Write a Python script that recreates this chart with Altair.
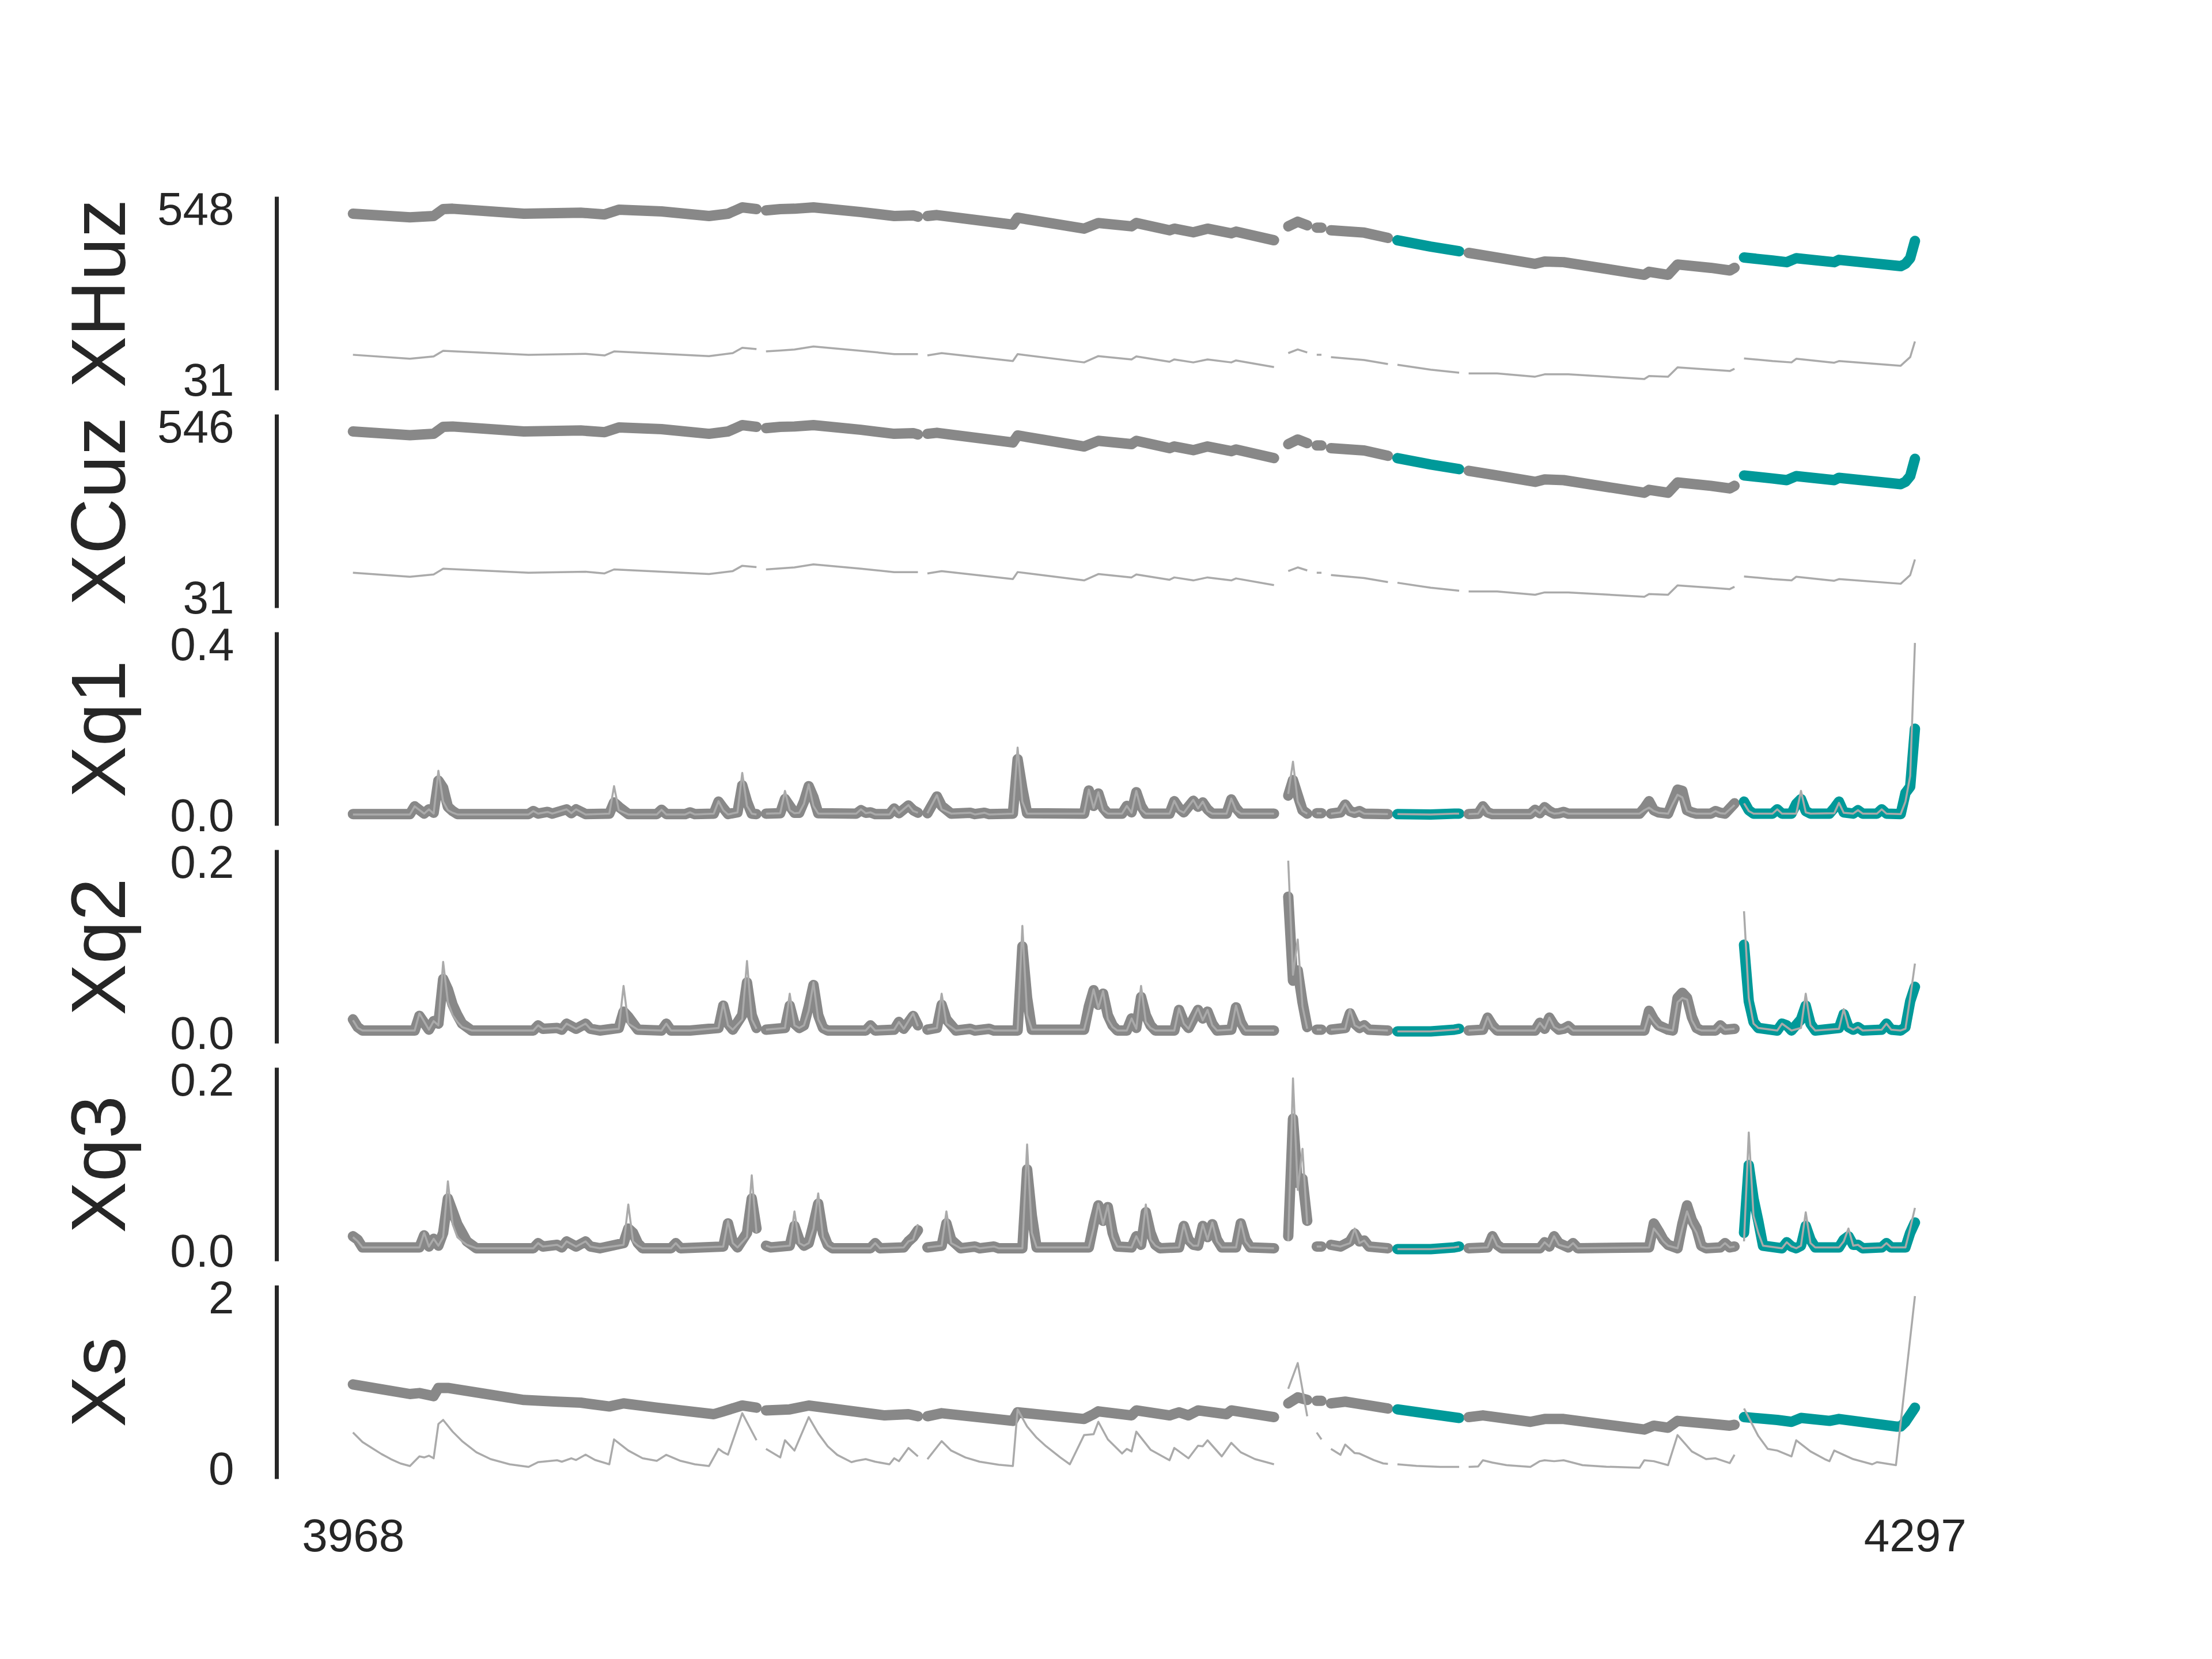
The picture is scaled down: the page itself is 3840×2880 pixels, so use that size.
import altair as alt
import pandas as pd

FONT = "Liberation Sans"
INK = "#262626"
GRAY = "#888888"
TEAL = "#009999"
THIN_GRAY = "#aaaaaa"

X_TICKS = [3968, 4297]
X_DOMAIN = [3951.9, 4313.1]

# segments of the record (gaps between them), and which are highlighted
SEG_STARTS = [3968, 4055, 4089, 4165, 4171, 4174, 4188, 4203, 4261]
SEG_HIGHLIGHT = [False, False, False, False, False, False, True, False, True]

PANEL_NAMES = ["XHuz", "XCuz", "Xq1", "Xq2", "Xq3", "Xs"]
PANEL_TICKS = [[31, 548], [31, 546], [0.0, 0.4], [0.0, 0.2], [0.0, 0.2], [0, 2]]
PANEL_FORMATS = ["d", "d", ".1f", ".1f", ".1f", "d"]

HUZ_THICK = [
    (3968, 529), (3980, 518), (3985, 522), (3987, 543), (3989, 544), (4004, 529), (4016, 532), (4021, 527),
    (4024, 541), (4033, 536), (4043, 522), (4047, 529), (4050, 548), (4053, 543),
    (4055, 539), (4058, 543), (4061, 544), (4065, 548), (4075, 534), (4082, 522), (4086, 524), (4087, 520),
    (4089, 522), (4091, 525), (4107, 496), (4108, 517), (4122, 484), (4125, 501), (4132, 491), (4133, 501),
    (4140, 479), (4141, 484), (4145, 473), (4148, 484), (4153, 470), (4154, 475), (4162, 449),
    (4165, 491), (4167, 505), (4169, 494),
    (4171, 487), (4172, 487),
    (4174, 479), (4181, 472), (4186, 456),
    (4188, 449), (4195, 430), (4201, 416),
    (4203, 411), (4209, 397), (4217, 378), (4219, 385), (4223, 383), (4240, 345), (4241, 354), (4245, 345),
    (4247, 376), (4254, 366), (4258, 358), (4259, 366),
    (4261, 397), (4267, 388), (4270, 383), (4272, 395), (4280, 383), (4281, 390), (4294, 371), (4295, 378),
    (4296, 395), (4297, 447),
]
HUZ_THIN = [
    (3968, 104), (3980, 92), (3985, 99), (3987, 116), (4005, 104), (4017, 107), (4021, 102), (4023, 114),
    (4043, 100), (4048, 109), (4050, 125), (4053, 121),
    (4055, 114), (4058, 117), (4061, 120), (4065, 129), (4075, 116), (4082, 106), (4087, 106),
    (4089, 102), (4092, 109), (4107, 85), (4108, 106), (4122, 81), (4125, 100), (4132, 90), (4133, 99),
    (4140, 83), (4141, 90), (4145, 81), (4148, 90), (4153, 81), (4154, 87), (4162, 67),
    (4165, 109), (4167, 120), (4169, 111),
    (4171, 104), (4172, 104),
    (4174, 97), (4181, 88), (4186, 76),
    (4188, 74), (4195, 59), (4201, 50),
    (4203, 48), (4209, 48), (4217, 38), (4219, 45), (4224, 45), (4240, 31), (4241, 40), (4245, 38),
    (4247, 66), (4254, 59), (4258, 55), (4259, 62),
    (4261, 93), (4267, 85), (4271, 81), (4272, 92), (4280, 80), (4281, 85), (4294, 71), (4296, 97), (4297, 144),
]
CUZ_THICK = [
    (3968, 527), (3980, 516), (3985, 520), (3987, 541), (3989, 542), (4004, 527), (4016, 530), (4021, 525),
    (4024, 539), (4033, 534), (4043, 520), (4047, 527), (4050, 546), (4053, 541),
    (4055, 537), (4058, 541), (4061, 542), (4065, 546), (4075, 532), (4082, 520), (4086, 522), (4087, 518),
    (4089, 520), (4091, 523), (4107, 494), (4108, 515), (4122, 482), (4125, 499), (4132, 489), (4133, 499),
    (4140, 477), (4141, 482), (4145, 471), (4148, 482), (4153, 468), (4154, 473), (4162, 447),
    (4165, 489), (4167, 503), (4169, 492),
    (4171, 485), (4172, 485),
    (4174, 477), (4181, 470), (4186, 454),
    (4188, 447), (4195, 428), (4201, 414),
    (4203, 409), (4209, 395), (4217, 376), (4219, 383), (4223, 381), (4240, 343), (4241, 352), (4245, 343),
    (4247, 374), (4254, 364), (4258, 356), (4259, 364),
    (4261, 395), (4267, 386), (4270, 381), (4272, 393), (4280, 381), (4281, 388), (4294, 369), (4295, 376),
    (4296, 393), (4297, 445),
]
CUZ_THIN = [
    (3968, 103), (3980, 91), (3985, 98), (3987, 115), (4005, 103), (4017, 106), (4021, 101), (4023, 113),
    (4043, 99), (4048, 108), (4050, 124), (4053, 120),
    (4055, 113), (4058, 116), (4061, 119), (4065, 128), (4075, 115), (4082, 105), (4087, 105),
    (4089, 101), (4092, 108), (4107, 84), (4108, 105), (4122, 80), (4125, 99), (4132, 89), (4133, 98),
    (4140, 82), (4141, 89), (4145, 80), (4148, 89), (4153, 80), (4154, 86), (4162, 66),
    (4165, 108), (4167, 119), (4169, 110),
    (4171, 103), (4172, 103),
    (4174, 96), (4181, 87), (4186, 75),
    (4188, 73), (4195, 58), (4201, 49),
    (4203, 47), (4209, 47), (4217, 37), (4219, 44), (4224, 44), (4240, 31), (4241, 39), (4245, 37),
    (4247, 65), (4254, 58), (4258, 54), (4259, 61),
    (4261, 92), (4267, 84), (4271, 80), (4272, 91), (4280, 79), (4281, 84), (4294, 70), (4296, 96), (4297, 143),
]
Q1_THICK = [
    (3968, 0.001), (3980, 0.001), (3981, 0.019), (3983, 0.002), (3984, 0.012), (3985, 0.004), (3986, 0.079),
    (3987, 0.062), (3988, 0.018), (3989, 0.008), (3990, 0.001), (4005, 0.001), (4006, 0.008), (4007, 0.002),
    (4009, 0.006), (4010, 0.002), (4013, 0.012), (4014, 0.003), (4015, 0.012), (4017, 0.001), (4022, 0.002),
    (4023, 0.028), (4024, 0.018), (4026, 0.001), (4032, 0.001), (4033, 0.011), (4034, 0.001), (4038, 0.001),
    (4039, 0.005), (4040, 0.001), (4044, 0.002), (4045, 0.030), (4046, 0.015), (4047, 0.001), (4049, 0.005),
    (4050, 0.068), (4051, 0.030), (4052, 0.002), (4053, 0.001),
    (4055, 0.002), (4058, 0.003), (4059, 0.036), (4060, 0.020), (4061, 0.004), (4062, 0.004), (4063, 0.030),
    (4064, 0.066), (4065, 0.040), (4066, 0.003), (4074, 0.002), (4075, 0.010), (4076, 0.004), (4077, 0.005),
    (4078, 0.001), (4081, 0.001), (4082, 0.014), (4083, 0.003), (4085, 0.021), (4086, 0.010), (4087, 0.004),
    (4089, 0.003), (4091, 0.042), (4092, 0.020), (4094, 0.002), (4098, 0.004), (4099, 0.001), (4101, 0.004),
    (4102, 0.001), (4107, 0.002), (4108, 0.129), (4109, 0.060), (4110, 0.003), (4122, 0.002), (4123, 0.056),
    (4124, 0.020), (4125, 0.049), (4126, 0.015), (4127, 0.002), (4130, 0.002), (4131, 0.020), (4132, 0.005),
    (4133, 0.052), (4134, 0.020), (4135, 0.002), (4140, 0.002), (4141, 0.031), (4142, 0.015), (4143, 0.005),
    (4145, 0.032), (4146, 0.018), (4147, 0.028), (4148, 0.012), (4149, 0.002), (4152, 0.002), (4153, 0.035),
    (4154, 0.015), (4155, 0.002), (4162, 0.002),
    (4165, 0.044), (4166, 0.080), (4167, 0.045), (4168, 0.010), (4169, 0.002),
    (4171, 0.003), (4172, 0.003),
    (4174, 0.002), (4176, 0.005), (4177, 0.023), (4178, 0.008), (4179, 0.004), (4180, 0.008), (4181, 0.002),
    (4186, 0.001),
    (4188, 0.001), (4195, 0.000), (4200, 0.002), (4201, 0.002),
    (4203, 0.001), (4205, 0.002), (4206, 0.019), (4207, 0.005), (4208, 0.001), (4216, 0.001), (4217, 0.011),
    (4218, 0.003), (4219, 0.017), (4220, 0.008), (4221, 0.002), (4222, 0.003), (4223, 0.006), (4224, 0.002),
    (4239, 0.002), (4240, 0.015), (4241, 0.031), (4242, 0.010), (4243, 0.005), (4245, 0.002), (4246, 0.030),
    (4247, 0.058), (4248, 0.055), (4249, 0.010), (4250, 0.005), (4251, 0.002), (4254, 0.002), (4255, 0.008),
    (4256, 0.004), (4257, 0.002), (4259, 0.026),
    (4261, 0.030), (4262, 0.010), (4263, 0.002), (4267, 0.002), (4268, 0.012), (4269, 0.002), (4271, 0.002),
    (4272, 0.025), (4273, 0.036), (4274, 0.008), (4275, 0.002), (4279, 0.002), (4280, 0.015), (4281, 0.030),
    (4282, 0.005), (4284, 0.002), (4285, 0.010), (4286, 0.002), (4289, 0.002), (4290, 0.012), (4291, 0.002),
    (4294, 0.001), (4295, 0.050), (4296, 0.065), (4297, 0.200),
]
Q1_THIN = [
    (3968, 0.0), (3980, 0.0), (3981, 0.019), (3983, 0.002), (3984, 0.012), (3985, 0.002), (3986, 0.102),
    (3987, 0.030), (3988, 0.010), (3989, 0.004), (3990, 0.0), (4005, 0.0), (4006, 0.008), (4007, 0.002),
    (4009, 0.006), (4010, 0.002), (4013, 0.012), (4014, 0.003), (4015, 0.012), (4017, 0.0), (4022, 0.002),
    (4023, 0.066), (4024, 0.010), (4026, 0.0), (4032, 0.0), (4033, 0.011), (4034, 0.0), (4038, 0.0),
    (4039, 0.005), (4040, 0.0), (4044, 0.002), (4045, 0.031), (4046, 0.010), (4047, 0.0), (4049, 0.005),
    (4050, 0.097), (4051, 0.020), (4052, 0.002), (4053, 0.0),
    (4055, 0.002), (4058, 0.003), (4059, 0.055), (4060, 0.010), (4061, 0.003), (4062, 0.004), (4063, 0.025),
    (4064, 0.070), (4065, 0.020), (4066, 0.002), (4074, 0.002), (4075, 0.012), (4076, 0.003), (4077, 0.005),
    (4078, 0.0), (4081, 0.0), (4082, 0.016), (4083, 0.003), (4085, 0.022), (4086, 0.008), (4087, 0.004),
    (4089, 0.003), (4091, 0.045), (4092, 0.012), (4094, 0.002), (4098, 0.004), (4099, 0.0), (4101, 0.004),
    (4102, 0.0), (4107, 0.002), (4108, 0.156), (4109, 0.030), (4110, 0.002), (4122, 0.002), (4123, 0.058),
    (4124, 0.015), (4125, 0.052), (4126, 0.010), (4127, 0.002), (4130, 0.002), (4131, 0.020), (4132, 0.004),
    (4133, 0.055), (4134, 0.012), (4135, 0.002), (4140, 0.002), (4141, 0.032), (4142, 0.010), (4143, 0.004),
    (4145, 0.034), (4146, 0.014), (4147, 0.030), (4148, 0.008), (4149, 0.002), (4152, 0.002), (4153, 0.037),
    (4154, 0.010), (4155, 0.002), (4162, 0.002),
    (4165, 0.048), (4166, 0.123), (4167, 0.030), (4168, 0.008), (4169, 0.002),
    (4171, 0.003), (4172, 0.003),
    (4174, 0.002), (4176, 0.005), (4177, 0.025), (4178, 0.006), (4179, 0.004), (4180, 0.008), (4181, 0.002),
    (4186, 0.001),
    (4188, 0.001), (4195, 0.0), (4200, 0.002), (4201, 0.002),
    (4203, 0.001), (4205, 0.002), (4206, 0.020), (4207, 0.004), (4208, 0.001), (4216, 0.001), (4217, 0.011),
    (4218, 0.003), (4219, 0.017), (4220, 0.006), (4221, 0.002), (4222, 0.003), (4223, 0.006), (4224, 0.002),
    (4239, 0.002), (4240, 0.010), (4241, 0.016), (4242, 0.008), (4243, 0.004), (4245, 0.002), (4246, 0.025),
    (4247, 0.046), (4248, 0.040), (4249, 0.008), (4250, 0.004), (4251, 0.002), (4254, 0.002), (4255, 0.008),
    (4256, 0.003), (4257, 0.002), (4259, 0.022),
    (4261, 0.026), (4262, 0.008), (4263, 0.002), (4267, 0.002), (4268, 0.012), (4269, 0.002), (4272, 0.002),
    (4273, 0.055), (4274, 0.005), (4275, 0.002), (4280, 0.003), (4281, 0.027), (4282, 0.004), (4284, 0.002),
    (4285, 0.010), (4286, 0.002), (4289, 0.002), (4290, 0.012), (4291, 0.002), (4294, 0.001), (4295, 0.030),
    (4296, 0.090), (4297, 0.400),
]
Q2_THICK = [
    (3968, 0.015), (3969, 0.006), (3970, 0.002), (3981, 0.002), (3982, 0.019), (3984, 0.003), (3985, 0.013),
    (3986, 0.010), (3987, 0.062), (3988, 0.050), (3989, 0.032), (3990, 0.020), (3991, 0.010), (3993, 0.002),
    (4006, 0.002), (4007, 0.008), (4008, 0.004), (4011, 0.005), (4012, 0.003), (4013, 0.010), (4015, 0.004),
    (4017, 0.010), (4018, 0.004), (4020, 0.002), (4024, 0.005), (4025, 0.024), (4026, 0.018), (4028, 0.003),
    (4033, 0.002), (4034, 0.010), (4035, 0.002), (4039, 0.002), (4045, 0.005), (4046, 0.031), (4047, 0.010),
    (4048, 0.003), (4050, 0.020), (4051, 0.058), (4052, 0.020), (4053, 0.005),
    (4055, 0.003), (4059, 0.005), (4060, 0.031), (4061, 0.010), (4062, 0.005), (4063, 0.008), (4064, 0.030),
    (4065, 0.055), (4066, 0.020), (4067, 0.005), (4068, 0.002), (4076, 0.002), (4077, 0.008), (4078, 0.002),
    (4082, 0.003), (4083, 0.012), (4084, 0.004), (4086, 0.019), (4087, 0.008),
    (4089, 0.003), (4091, 0.005), (4092, 0.032), (4093, 0.015), (4095, 0.002), (4098, 0.004), (4099, 0.002),
    (4102, 0.004), (4103, 0.002), (4108, 0.002), (4109, 0.100), (4110, 0.040), (4111, 0.003), (4122, 0.003),
    (4123, 0.030), (4124, 0.049), (4125, 0.032), (4126, 0.045), (4127, 0.020), (4128, 0.008), (4129, 0.002),
    (4131, 0.002), (4132, 0.016), (4133, 0.005), (4134, 0.041), (4135, 0.020), (4136, 0.008), (4137, 0.002),
    (4141, 0.002), (4142, 0.026), (4143, 0.012), (4144, 0.005), (4146, 0.026), (4147, 0.016), (4148, 0.024),
    (4149, 0.010), (4150, 0.002), (4153, 0.003), (4154, 0.029), (4155, 0.012), (4156, 0.002), (4162, 0.002),
    (4165, 0.158), (4166, 0.060), (4167, 0.072), (4168, 0.035), (4169, 0.006),
    (4171, 0.003), (4172, 0.003),
    (4174, 0.003), (4177, 0.005), (4178, 0.022), (4179, 0.010), (4180, 0.005), (4181, 0.008), (4182, 0.003),
    (4186, 0.002),
    (4188, 0.001), (4195, 0.001), (4200, 0.003), (4201, 0.004),
    (4203, 0.002), (4206, 0.003), (4207, 0.017), (4208, 0.008), (4209, 0.002), (4217, 0.002), (4218, 0.011),
    (4219, 0.004), (4220, 0.017), (4221, 0.008), (4222, 0.003), (4223, 0.004), (4224, 0.007), (4225, 0.002),
    (4240, 0.002), (4241, 0.025), (4242, 0.015), (4243, 0.008), (4245, 0.003), (4246, 0.002), (4247, 0.040),
    (4248, 0.046), (4249, 0.040), (4250, 0.018), (4251, 0.005), (4252, 0.002), (4255, 0.002), (4256, 0.008),
    (4257, 0.003), (4259, 0.004),
    (4261, 0.102), (4262, 0.036), (4263, 0.012), (4264, 0.005), (4268, 0.002), (4269, 0.010), (4270, 0.008),
    (4271, 0.002), (4273, 0.015), (4274, 0.031), (4275, 0.010), (4276, 0.002), (4281, 0.005), (4282, 0.021),
    (4283, 0.006), (4284, 0.003), (4285, 0.006), (4286, 0.002), (4290, 0.003), (4291, 0.010), (4292, 0.003),
    (4294, 0.002), (4295, 0.006), (4296, 0.036), (4297, 0.053),
]
Q2_THIN = [
    (3968, 0.014), (3969, 0.005), (3970, 0.002), (3981, 0.002), (3982, 0.022), (3984, 0.003), (3985, 0.013),
    (3986, 0.008), (3987, 0.082), (3988, 0.035), (3989, 0.020), (3990, 0.012), (3991, 0.006), (3993, 0.002),
    (4006, 0.002), (4007, 0.008), (4008, 0.004), (4011, 0.005), (4012, 0.003), (4013, 0.010), (4015, 0.004),
    (4017, 0.010), (4018, 0.004), (4020, 0.002), (4024, 0.004), (4025, 0.054), (4026, 0.010), (4028, 0.003),
    (4033, 0.002), (4034, 0.010), (4035, 0.002), (4039, 0.002), (4045, 0.005), (4046, 0.034), (4047, 0.008),
    (4048, 0.003), (4050, 0.015), (4051, 0.083), (4052, 0.015), (4053, 0.004),
    (4055, 0.003), (4059, 0.005), (4060, 0.045), (4061, 0.008), (4062, 0.005), (4063, 0.008), (4064, 0.025),
    (4065, 0.058), (4066, 0.015), (4067, 0.004), (4068, 0.002), (4076, 0.002), (4077, 0.008), (4078, 0.002),
    (4082, 0.003), (4083, 0.012), (4084, 0.004), (4086, 0.022), (4087, 0.007),
    (4089, 0.003), (4091, 0.005), (4092, 0.045), (4093, 0.010), (4095, 0.002), (4098, 0.004), (4099, 0.002),
    (4102, 0.004), (4103, 0.002), (4108, 0.002), (4109, 0.124), (4110, 0.020), (4111, 0.003), (4122, 0.003),
    (4123, 0.025), (4124, 0.050), (4125, 0.028), (4126, 0.048), (4127, 0.015), (4128, 0.006), (4129, 0.002),
    (4131, 0.002), (4132, 0.016), (4133, 0.004), (4134, 0.054), (4135, 0.012), (4136, 0.005), (4137, 0.002),
    (4141, 0.002), (4142, 0.028), (4143, 0.010), (4144, 0.004), (4146, 0.028), (4147, 0.014), (4148, 0.026),
    (4149, 0.008), (4150, 0.002), (4153, 0.003), (4154, 0.031), (4155, 0.010), (4156, 0.002), (4162, 0.002),
    (4165, 0.200), (4166, 0.067), (4167, 0.108), (4168, 0.030), (4169, 0.004),
    (4171, 0.003), (4172, 0.003),
    (4174, 0.003), (4177, 0.004), (4178, 0.027), (4179, 0.008), (4180, 0.005), (4181, 0.008), (4182, 0.003),
    (4186, 0.002),
    (4188, 0.001), (4195, 0.001), (4200, 0.003), (4201, 0.004),
    (4203, 0.002), (4206, 0.003), (4207, 0.018), (4208, 0.006), (4209, 0.002), (4217, 0.002), (4218, 0.011),
    (4219, 0.004), (4220, 0.017), (4221, 0.006), (4222, 0.003), (4223, 0.004), (4224, 0.007), (4225, 0.002),
    (4240, 0.002), (4241, 0.020), (4242, 0.012), (4243, 0.006), (4245, 0.003), (4246, 0.002), (4247, 0.035),
    (4248, 0.040), (4249, 0.038), (4250, 0.014), (4251, 0.004), (4252, 0.002), (4255, 0.002), (4256, 0.008),
    (4257, 0.003), (4259, 0.004),
    (4261, 0.141), (4262, 0.040), (4263, 0.010), (4264, 0.005), (4268, 0.002), (4269, 0.010), (4270, 0.006),
    (4271, 0.002), (4273, 0.005), (4274, 0.045), (4275, 0.008), (4276, 0.002), (4281, 0.004), (4282, 0.027),
    (4283, 0.006), (4284, 0.003), (4285, 0.006), (4286, 0.002), (4290, 0.003), (4291, 0.010), (4292, 0.003),
    (4294, 0.002), (4295, 0.004), (4296, 0.040), (4297, 0.080),
]
Q3_THICK = [
    (3968, 0.016), (3969, 0.012), (3970, 0.003), (3982, 0.003), (3983, 0.017), (3984, 0.004), (3985, 0.013),
    (3986, 0.005), (3987, 0.020), (3988, 0.060), (3989, 0.045), (3990, 0.030), (3991, 0.020), (3992, 0.010),
    (3994, 0.002), (4006, 0.002), (4007, 0.008), (4008, 0.004), (4011, 0.006), (4012, 0.003), (4013, 0.010),
    (4015, 0.004), (4017, 0.010), (4018, 0.004), (4020, 0.002), (4025, 0.008), (4026, 0.025), (4027, 0.020),
    (4028, 0.008), (4029, 0.002), (4035, 0.002), (4036, 0.008), (4037, 0.002), (4046, 0.004), (4047, 0.031),
    (4048, 0.010), (4049, 0.003), (4051, 0.020), (4052, 0.060), (4053, 0.025),
    (4055, 0.005), (4056, 0.003), (4060, 0.005), (4061, 0.028), (4062, 0.012), (4063, 0.005), (4064, 0.008),
    (4065, 0.030), (4066, 0.054), (4067, 0.020), (4068, 0.006), (4069, 0.002), (4077, 0.002), (4078, 0.008),
    (4079, 0.002), (4084, 0.003), (4085, 0.010), (4086, 0.015), (4087, 0.023),
    (4089, 0.003), (4092, 0.005), (4093, 0.031), (4094, 0.012), (4096, 0.002), (4099, 0.004), (4100, 0.002),
    (4103, 0.004), (4104, 0.002), (4109, 0.002), (4110, 0.094), (4111, 0.040), (4112, 0.003), (4123, 0.003),
    (4124, 0.030), (4125, 0.052), (4126, 0.034), (4127, 0.050), (4128, 0.020), (4129, 0.004), (4132, 0.003),
    (4133, 0.016), (4134, 0.006), (4135, 0.044), (4136, 0.020), (4137, 0.006), (4138, 0.002), (4142, 0.003),
    (4143, 0.028), (4144, 0.012), (4145, 0.006), (4146, 0.005), (4147, 0.028), (4148, 0.015), (4149, 0.030),
    (4150, 0.012), (4151, 0.003), (4154, 0.003), (4155, 0.031), (4156, 0.012), (4157, 0.003), (4162, 0.002),
    (4165, 0.016), (4166, 0.153), (4167, 0.078), (4168, 0.083), (4169, 0.034),
    (4171, 0.004), (4172, 0.004),
    (4174, 0.006), (4176, 0.004), (4178, 0.010), (4179, 0.019), (4180, 0.010), (4181, 0.011), (4182, 0.004),
    (4186, 0.002),
    (4188, 0.001), (4195, 0.001), (4200, 0.003), (4201, 0.004),
    (4203, 0.002), (4207, 0.003), (4208, 0.016), (4209, 0.006), (4210, 0.002), (4218, 0.002), (4219, 0.009),
    (4220, 0.004), (4221, 0.016), (4222, 0.008), (4224, 0.003), (4225, 0.008), (4226, 0.002), (4241, 0.003),
    (4242, 0.031), (4243, 0.022), (4244, 0.012), (4245, 0.006), (4247, 0.002), (4248, 0.030), (4249, 0.052),
    (4250, 0.035), (4251, 0.025), (4252, 0.005), (4253, 0.002), (4256, 0.003), (4257, 0.008), (4258, 0.003),
    (4259, 0.004),
    (4261, 0.020), (4262, 0.099), (4263, 0.060), (4264, 0.034), (4265, 0.005), (4269, 0.002), (4270, 0.009),
    (4271, 0.004), (4272, 0.002), (4273, 0.005), (4274, 0.028), (4275, 0.012), (4276, 0.003), (4281, 0.003),
    (4282, 0.012), (4283, 0.016), (4284, 0.006), (4285, 0.006), (4286, 0.002), (4290, 0.003), (4291, 0.008),
    (4292, 0.003), (4295, 0.003), (4296, 0.020), (4297, 0.032),
]
Q3_THIN = [
    (3968, 0.015), (3969, 0.010), (3970, 0.003), (3982, 0.003), (3983, 0.020), (3984, 0.004), (3985, 0.013),
    (3986, 0.005), (3987, 0.015), (3988, 0.080), (3989, 0.030), (3990, 0.015), (3991, 0.010), (3992, 0.006),
    (3994, 0.002), (4006, 0.002), (4007, 0.008), (4008, 0.004), (4011, 0.006), (4012, 0.003), (4013, 0.010),
    (4015, 0.004), (4017, 0.010), (4018, 0.004), (4020, 0.002), (4025, 0.006), (4026, 0.053), (4027, 0.010),
    (4028, 0.005), (4029, 0.002), (4035, 0.002), (4036, 0.008), (4037, 0.002), (4046, 0.004), (4047, 0.034),
    (4048, 0.008), (4049, 0.003), (4051, 0.015), (4052, 0.087), (4053, 0.020),
    (4055, 0.005), (4056, 0.003), (4060, 0.005), (4061, 0.045), (4062, 0.008), (4063, 0.005), (4064, 0.008),
    (4065, 0.025), (4066, 0.066), (4067, 0.015), (4068, 0.005), (4069, 0.002), (4077, 0.002), (4078, 0.008),
    (4079, 0.002), (4084, 0.003), (4085, 0.010), (4086, 0.012), (4087, 0.030),
    (4089, 0.003), (4092, 0.005), (4093, 0.045), (4094, 0.008), (4096, 0.002), (4099, 0.004), (4100, 0.002),
    (4103, 0.004), (4104, 0.002), (4109, 0.002), (4110, 0.123), (4111, 0.020), (4112, 0.003), (4123, 0.003),
    (4124, 0.025), (4125, 0.054), (4126, 0.030), (4127, 0.052), (4128, 0.015), (4129, 0.004), (4132, 0.003),
    (4133, 0.016), (4134, 0.005), (4135, 0.053), (4136, 0.012), (4137, 0.005), (4138, 0.002), (4142, 0.003),
    (4143, 0.030), (4144, 0.010), (4145, 0.005), (4146, 0.005), (4147, 0.030), (4148, 0.012), (4149, 0.032),
    (4150, 0.010), (4151, 0.003), (4154, 0.003), (4155, 0.033), (4156, 0.010), (4157, 0.003), (4162, 0.002),
    (4165, 0.010), (4166, 0.200), (4167, 0.070), (4168, 0.118), (4169, 0.030),
    (4171, 0.004), (4172, 0.004),
    (4174, 0.006), (4176, 0.004), (4178, 0.008), (4179, 0.025), (4180, 0.008), (4181, 0.011), (4182, 0.004),
    (4186, 0.002),
    (4188, 0.001), (4195, 0.001), (4200, 0.003), (4201, 0.004),
    (4203, 0.002), (4207, 0.003), (4208, 0.017), (4209, 0.005), (4210, 0.002), (4218, 0.002), (4219, 0.009),
    (4220, 0.004), (4221, 0.016), (4222, 0.006), (4224, 0.003), (4225, 0.008), (4226, 0.002), (4241, 0.003),
    (4242, 0.025), (4243, 0.018), (4244, 0.010), (4245, 0.005), (4247, 0.002), (4248, 0.025), (4249, 0.045),
    (4250, 0.030), (4251, 0.020), (4252, 0.004), (4253, 0.002), (4256, 0.003), (4257, 0.008), (4258, 0.003),
    (4259, 0.004),
    (4261, 0.010), (4262, 0.137), (4263, 0.040), (4264, 0.020), (4265, 0.005), (4269, 0.002), (4270, 0.009),
    (4271, 0.004), (4272, 0.002), (4273, 0.005), (4274, 0.044), (4275, 0.008), (4276, 0.003), (4281, 0.003),
    (4282, 0.010), (4283, 0.025), (4284, 0.005), (4285, 0.006), (4286, 0.002), (4290, 0.003), (4291, 0.008),
    (4292, 0.003), (4295, 0.003), (4296, 0.025), (4297, 0.049),
]
S_THICK = [
    (3968, 0.971), (3980, 0.859), (3982, 0.870), (3985, 0.835), (3986, 0.930), (3988, 0.930), (4004, 0.790),
    (4011, 0.770), (4016, 0.758), (4022, 0.714), (4025, 0.750), (4032, 0.700), (4044, 0.624), (4046, 0.657),
    (4050, 0.725), (4053, 0.700),
    (4055, 0.668), (4060, 0.680), (4064, 0.725), (4080, 0.610), (4085, 0.624), (4087, 0.600),
    (4089, 0.600), (4092, 0.635), (4107, 0.546), (4108, 0.646), (4122, 0.568), (4124, 0.624), (4125, 0.657),
    (4132, 0.610), (4133, 0.668), (4140, 0.610), (4142, 0.646), (4144, 0.610), (4146, 0.668), (4152, 0.624),
    (4153, 0.668), (4162, 0.590),
    (4165, 0.750), (4167, 0.820), (4169, 0.790),
    (4171, 0.780), (4172, 0.780),
    (4174, 0.750), (4177, 0.770), (4186, 0.690),
    (4188, 0.680), (4201, 0.580),
    (4203, 0.590), (4206, 0.610), (4216, 0.535), (4219, 0.568), (4223, 0.568), (4240, 0.445), (4242, 0.490),
    (4245, 0.466), (4247, 0.546), (4254, 0.512), (4258, 0.490), (4259, 0.500),
    (4261, 0.590), (4268, 0.557), (4271, 0.535), (4273, 0.580), (4279, 0.546), (4281, 0.568), (4293, 0.480),
    (4294, 0.480), (4295, 0.535), (4297, 0.700),
]
S_THIN = [
    (3968, 0.411), (3970, 0.300), (3972, 0.230), (3974, 0.160), (3976, 0.100), (3978, 0.050), (3980, 0.020),
    (3982, 0.132), (3983, 0.120), (3984, 0.140), (3985, 0.110), (3986, 0.510), (3987, 0.557), (3989, 0.420),
    (3991, 0.310), (3994, 0.180), (3997, 0.100), (4001, 0.040), (4005, 0.010), (4007, 0.065), (4011, 0.087),
    (4012, 0.070), (4014, 0.110), (4015, 0.090), (4017, 0.152), (4019, 0.090), (4022, 0.040), (4023, 0.330),
    (4026, 0.200), (4029, 0.110), (4032, 0.080), (4034, 0.150), (4037, 0.080), (4040, 0.040), (4043, 0.020),
    (4045, 0.220), (4046, 0.180), (4047, 0.152), (4050, 0.635), (4053, 0.320),
    (4055, 0.220), (4058, 0.120), (4059, 0.320), (4061, 0.200), (4064, 0.590), (4066, 0.400), (4068, 0.250),
    (4070, 0.150), (4073, 0.065), (4074, 0.080), (4076, 0.100), (4078, 0.070), (4081, 0.040), (4082, 0.110),
    (4083, 0.076), (4085, 0.230), (4087, 0.132),
    (4089, 0.100), (4092, 0.310), (4094, 0.200), (4097, 0.120), (4100, 0.070), (4104, 0.035), (4107, 0.020),
    (4108, 0.680), (4110, 0.480), (4112, 0.350), (4114, 0.250), (4117, 0.120), (4119, 0.040), (4122, 0.380),
    (4124, 0.390), (4125, 0.535), (4127, 0.330), (4130, 0.165), (4131, 0.220), (4132, 0.190), (4133, 0.420),
    (4136, 0.210), (4140, 0.087), (4141, 0.230), (4144, 0.110), (4146, 0.256), (4147, 0.250), (4148, 0.320),
    (4151, 0.132), (4153, 0.290), (4155, 0.180), (4158, 0.100), (4162, 0.040),
    (4165, 0.920), (4167, 1.220), (4169, 0.600),
    (4171, 0.410), (4172, 0.330),
    (4174, 0.220), (4176, 0.150), (4177, 0.270), (4179, 0.170), (4180, 0.165), (4183, 0.090), (4185, 0.050),
    (4186, 0.045),
    (4188, 0.040), (4192, 0.022), (4197, 0.010), (4201, 0.010),
    (4203, 0.010), (4205, 0.015), (4206, 0.087), (4208, 0.060), (4211, 0.030), (4216, 0.010), (4218, 0.076),
    (4219, 0.087), (4221, 0.076), (4223, 0.087), (4227, 0.030), (4232, 0.012), (4239, 0.000), (4240, 0.087),
    (4242, 0.076), (4245, 0.030), (4247, 0.380), (4250, 0.190), (4253, 0.100), (4255, 0.110), (4258, 0.054),
    (4259, 0.152),
    (4261, 0.690), (4264, 0.370), (4266, 0.220), (4268, 0.200), (4271, 0.132), (4272, 0.320), (4275, 0.190),
    (4278, 0.100), (4279, 0.076), (4280, 0.200), (4284, 0.100), (4288, 0.040), (4289, 0.065), (4293, 0.030),
    (4297, 2.000),
]

PANEL_THICK = [HUZ_THICK, CUZ_THICK, Q1_THICK, Q2_THICK, Q3_THICK, S_THICK]
PANEL_THIN = [HUZ_THIN, CUZ_THIN, Q1_THIN, Q2_THIN, Q3_THIN, S_THIN]

PLOT_W = 2977
PLOT_H = 336


def seg_index(x):
    idx = 0
    for i, start in enumerate(SEG_STARTS):
        if x >= start:
            idx = i
    return idx


def to_frame(points):
    rows = []
    for x, y in points:
        s = seg_index(x)
        rows.append({"x": x, "y": y, "seg": s, "grp": "hl" if SEG_HIGHLIGHT[s] else "base"})
    return pd.DataFrame(rows)


def make_panel(i, last):
    lo, hi = PANEL_TICKS[i]
    pad = (hi - lo) * 0.064
    yscale = alt.Scale(domain=[lo - pad, hi + pad], nice=False, zero=False)
    xscale = alt.Scale(domain=X_DOMAIN, nice=False, zero=False)
    if last:
        xaxis = alt.Axis(values=X_TICKS, format="d", domain=False, ticks=False, grid=False,
                         labelFontSize=80, labelPadding=62, labelColor=INK, labelFont=FONT,
                         title=None, labelFlush=False)
    else:
        xaxis = None
    yaxis = alt.Axis(values=PANEL_TICKS[i], format=PANEL_FORMATS[i], title=PANEL_NAMES[i],
                     ticks=False, grid=False, domain=True, domainWidth=7, domainColor=INK,
                     labelFontSize=80, labelPadding=74, labelColor=INK, labelFont=FONT,
                     labelFlush=False, labelOverlap=False, labelOffset=5,
                     titleFont=FONT, titleFontSize=134, titleFontWeight="normal", titleColor=INK,
                     titleAngle=270, titleAlign="center", titleBaseline="alphabetic",
                     titleX=-264, titleY=PLOT_H / 2)
    x_enc = alt.X("x:Q", scale=xscale, axis=xaxis)
    y_enc = alt.Y("y:Q", scale=yscale, axis=yaxis)
    thick = alt.Chart(to_frame(PANEL_THICK[i])).mark_line(
        strokeWidth=18, strokeCap="round", strokeJoin="round"
    ).encode(
        x=x_enc, y=y_enc,
        color=alt.Color("grp:N", scale=alt.Scale(domain=["base", "hl"], range=[GRAY, TEAL]), legend=None),
        detail="seg:N",
    )
    thin = alt.Chart(to_frame(PANEL_THIN[i])).mark_line(
        strokeWidth=3.5, color=THIN_GRAY, strokeJoin="round"
    ).encode(x=x_enc, y=y_enc, detail="seg:N")
    return alt.layer(thick, thin).properties(width=PLOT_W, height=PLOT_H)


panels = [make_panel(i, i == len(PANEL_NAMES) - 1) for i in range(len(PANEL_NAMES))]

chart = alt.vconcat(*panels, spacing=42, bounds="flush").properties(
    padding={"left": 100, "top": 317, "right": 40, "bottom": 40},
    background="white",
).configure_view(stroke=None)

chart.save("out.html", embed_options={"renderer": "svg", "actions": False})
